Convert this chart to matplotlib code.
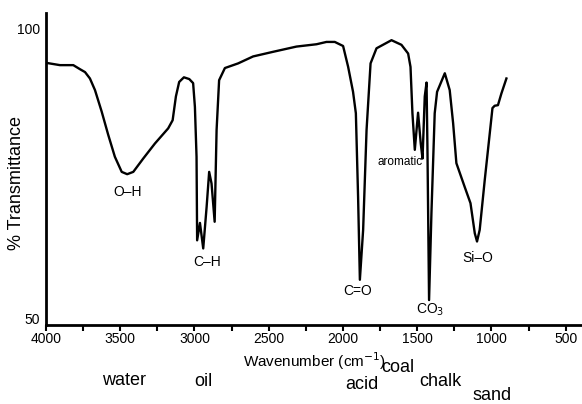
import matplotlib.pyplot as plt
import numpy as np

plt.rcParams['font.family'] = ['Liberation Sans', 'DejaVu Sans']

# IR spectrum
wavenumber = [4000, 3906, 3816, 3771, 3737, 3704, 3670, 3625, 3581, 3536, 3490, 3453,
              3412, 3345, 3266, 3177, 3147, 3125, 3103, 3071, 3035, 3009, 2997, 2986,
              2982, 2963, 2941, 2918, 2901, 2885, 2864, 2851, 2834, 2795, 2706, 2605,
              2470, 2313, 2178, 2111, 2055, 1999, 1965, 1932, 1913, 1898, 1886, 1864,
              1841, 1814, 1774, 1673, 1606, 1561, 1545, 1532, 1516, 1494, 1476, 1464,
              1449, 1437, 1431, 1420, 1404, 1382, 1366, 1314, 1281, 1258, 1236, 1180,
              1141, 1112, 1097, 1079, 1045, 1016, 993, 978, 956, 933, 899]
transmittance = [94.0, 93.6, 93.6, 92.9, 92.4, 91.3, 89.3, 85.6, 81.6, 77.8, 75.2, 74.8,
                 75.2, 77.5, 80.1, 82.7, 84.1, 88.2, 90.7, 91.5, 91.2, 90.5, 86.4, 77.8,
                 63.4, 66.4, 62.0, 69.2, 75.2, 73.2, 66.6, 82.4, 91.0, 93.1, 93.9, 95.1,
                 95.9, 96.8, 97.2, 97.6, 97.6, 96.9, 93.3, 89.0, 85.3, 70.9, 56.6, 65.2,
                 82.4, 93.9, 96.5, 97.9, 97.1, 95.6, 93.3, 85.3, 79.0, 85.4, 80.1, 77.5,
                 88.2, 90.6, 79.5, 53.1, 68.1, 85.3, 89.0, 92.2, 89.3, 83.6, 76.7, 72.6,
                 69.8, 64.6, 63.2, 65.2, 73.8, 80.7, 86.2, 86.6, 86.7, 88.7, 91.3]

# band labels (text, x, y)
bands = [("O\u2013H", 3448, 71.7), ("C\u2013H", 2916, 59.7), ("C=O", 1900, 54.7),
         ("CO$_3$", 1415, 51.4), ("Si\u2013O", 1092, 60.3)]
# materials written under the axis
materials = [("water", 3475, 39.3), ("oil", 2943, 39.0), ("acid", 1873, 38.6),
             ("coal", 1631, 41.4), ("chalk", 1341, 39.0), ("sand", 998, 36.6)]

fig = plt.figure(figsize=(5.82, 4.04), dpi=100)
ax = fig.add_axes([0.079, 0.1955, 0.921, 0.7725])

ax.plot(wavenumber, transmittance, color='black', linewidth=1.7,
        solid_joinstyle='round')

ax.set_xlim(4000, 390)
ax.set_ylim(48.8, 102.6)
ax.set_xticks([4000, 3500, 3000, 2500, 2000, 1500, 1000, 500])
ax.set_xticks(np.arange(3750, 400, -500), minor=True)
ax.set_yticks([50, 100])
ax.tick_params(axis='x', which='both', direction='out', length=4, width=1.5, labelsize=10, pad=1)
ax.tick_params(axis='y', length=0, labelsize=10, pad=4)
for s in ['top', 'right']:
    ax.spines[s].set_visible(False)
for s in ['left', 'bottom']:
    ax.spines[s].set_linewidth(2)

ax.set_xlabel("Wavenumber (cm$^{-1}$)", fontsize=11, labelpad=3)
ax.set_ylabel("% Transmittance", fontsize=13)
ax.yaxis.set_label_coords(-0.039, 0.455)

for txt, x, y in bands:
    ax.text(x, y, txt, ha='center', va='center', fontsize=10)
ax.text(1617, 76.9, "aromatic", ha='center', va='center', fontsize=8.5)

for txt, x, y in materials:
    ax.text(x, y, txt, ha='center', va='center', fontsize=13, clip_on=False)

fig.savefig("out.png", dpi=100)
